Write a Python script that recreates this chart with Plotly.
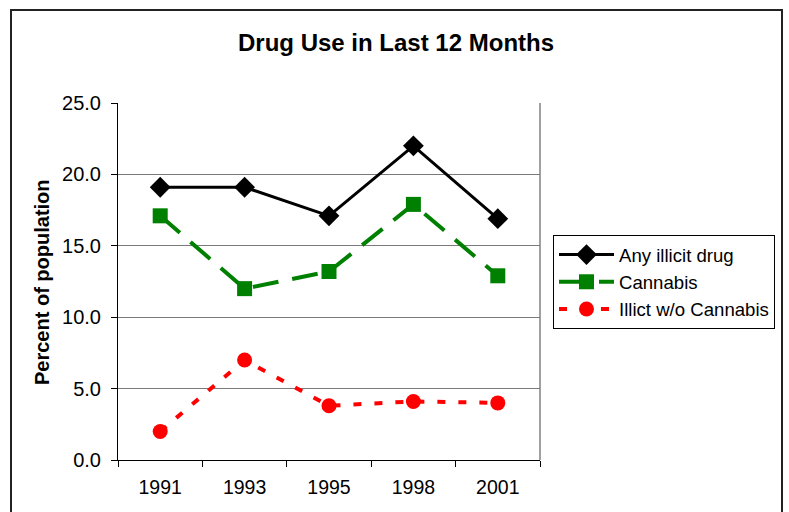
import plotly.graph_objects as go

years = ["1991", "1993", "1995", "1998", "2001"]
any_illicit = [19.1, 19.1, 17.1, 22.0, 16.9]
cannabis = [17.1, 12.0, 13.2, 17.9, 12.9]
illicit_no_cannabis = [2.0, 7.0, 3.8, 4.1, 4.0]
y_ticks = [0, 5, 10, 15, 20, 25]
y_tick_text = ["0.0", "5.0", "10.0", "15.0", "20.0", "25.0"]

FONT = "Liberation Sans, Arial, sans-serif"

fig = go.Figure()
fig.add_trace(go.Scatter(
    x=years, y=any_illicit, name="Any illicit drug", mode="lines+markers",
    line=dict(color="black", width=3),
    marker=dict(symbol="diamond", size=16, color="black"),
))
fig.add_trace(go.Scatter(
    x=years, y=cannabis, name="Cannabis", mode="lines+markers",
    line=dict(color="#008000", width=4, dash="26px,14px"),
    marker=dict(symbol="square", size=15, color="#008000"),
))
fig.add_trace(go.Scatter(
    x=years, y=illicit_no_cannabis, name="Illict w/o Cannabis", mode="lines+markers",
    line=dict(color="#ff0000", width=4, dash="8px,13px"),
    marker=dict(symbol="circle", size=15, color="#ff0000"),
))

L, R, T, B = 118, 249, 103, 52
W, H = 789, 512
pw, ph = W - L - R, H - T - B

def px_x(x):
    return (x - L) / pw

def px_y(y):
    return (H - B - y) / ph

fig.update_layout(
    width=W, height=H,
    margin=dict(l=L, r=R, t=T, b=B),
    paper_bgcolor="white", plot_bgcolor="white",
    font=dict(family=FONT, size=19, color="black"),
    showlegend=True,
    legend=dict(
        x=px_x(553), y=px_y(235), xanchor="left", yanchor="top",
        bordercolor="black", borderwidth=1, bgcolor="white",
        font=dict(family=FONT, size=18.6, color="black"),
        tracegroupgap=0, itemwidth=55,
    ),
    xaxis=dict(
        type="category", range=[-0.5, 4.5], tickson="boundaries",
        ticks="outside", ticklen=6, tickcolor="black", tickwidth=1,
        showline=True, linecolor="black", linewidth=1,
        showgrid=False, tickfont=dict(size=19.5), ticklabelstandoff=10,
    ),
    yaxis=dict(
        range=[0, 25], tickvals=y_ticks, ticktext=y_tick_text,
        ticks="outside", ticklen=6, tickcolor="black", tickwidth=1,
        showline=True, linecolor="black", linewidth=1,
        showgrid=True, gridcolor="#7a7a7a", gridwidth=1,
        zeroline=False, tickfont=dict(size=20), ticklabelstandoff=6,
    ),
    shapes=[
        # right edge of the plot area
        dict(type="line", xref="paper", yref="paper", x0=1, x1=1, y0=0, y1=1,
             line=dict(color="#808080", width=1.5)),
        # outer chart frame
        dict(type="rect", xref="paper", yref="paper",
             x0=px_x(11), x1=px_x(782), y0=px_y(530), y1=px_y(10),
             line=dict(color="#222222", width=2)),
    ],
    annotations=[
        dict(text="<b>Drug Use in Last 12 Months</b>", xref="paper", yref="paper",
             x=px_x(396), y=px_y(43), showarrow=False,
             font=dict(family=FONT, size=24, color="black"),
             xanchor="center", yanchor="middle"),
        dict(text="<b>Percent of population</b>", xref="paper", yref="paper",
             x=px_x(42), y=px_y(282), showarrow=False, textangle=-90,
             font=dict(family=FONT, size=20, color="black"),
             xanchor="center", yanchor="middle"),
    ],
)

fig.write_html("out.html")
